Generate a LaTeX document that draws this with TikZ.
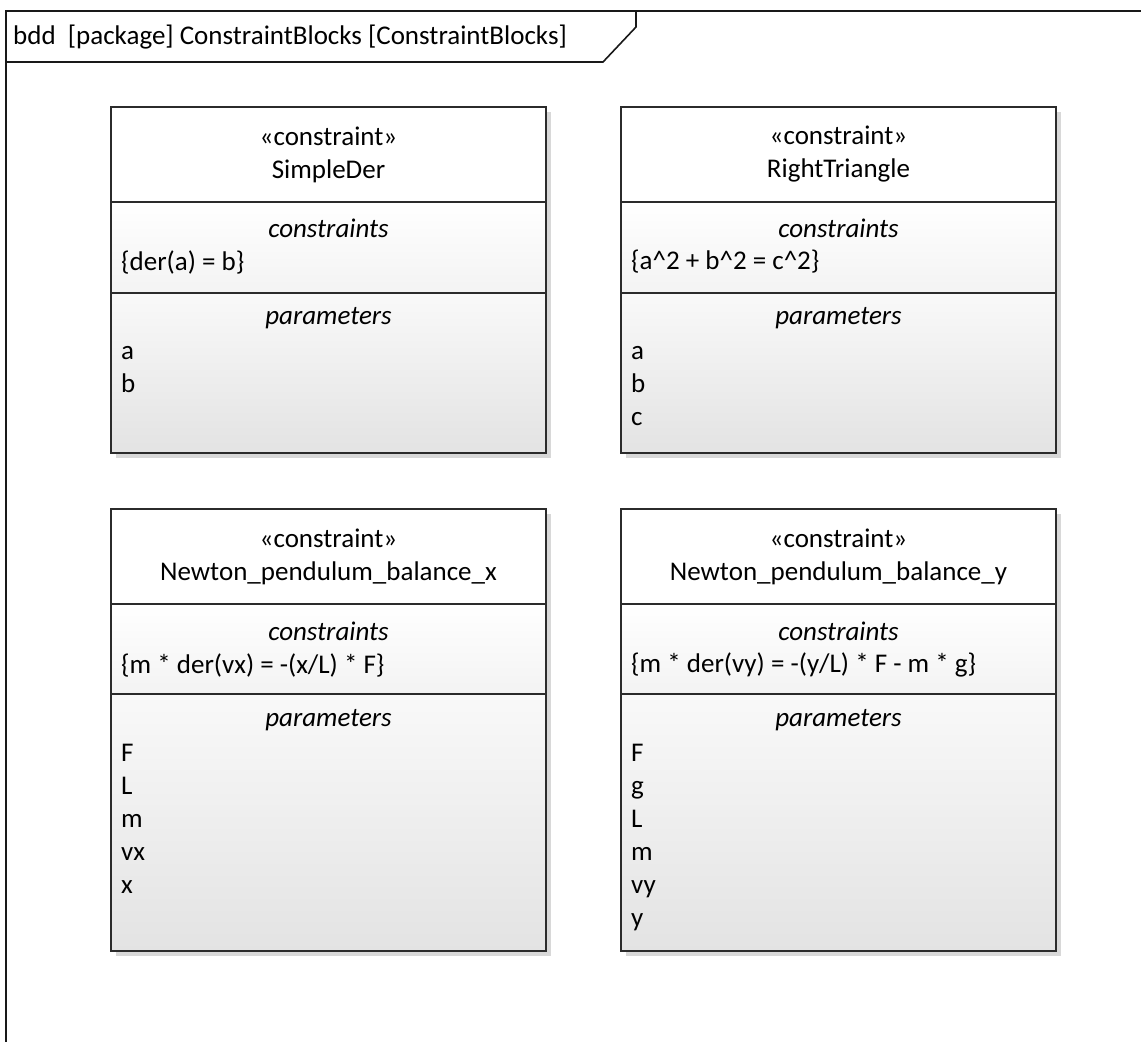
\documentclass[tikz,border=0pt]{standalone}
\usepackage{fontspec}
\setmainfont{Carlito}
\usetikzlibrary{shadows,positioning}
\definecolor{edge}{HTML}{2B2B2B}
\definecolor{shade}{HTML}{D8D8D8}
\definecolor{constbot}{HTML}{F3F3F3}
\definecolor{paramtop}{HTML}{F9F9F9}
\definecolor{parambot}{HTML}{E3E3E3}
\newcommand{\umltext}{\fontsize{27}{33}\selectfont}

\begin{document}
\begin{tikzpicture}[
  x=1pt,y=1pt,
  frameline/.style={draw=black!90, line width=1.6pt},
  comp/.style={draw=edge, line width=1.8pt, minimum width=435pt,
    inner sep=0pt, outer sep=0pt, anchor=north west,
    drop shadow={shadow xshift=5pt, shadow yshift=-5pt, fill=shade,
      opacity=1}},
  headbox/.style={comp, fill=white, align=center, font=\umltext},
  consbox/.style={comp, top color=white, bottom color=constbot},
  parsbox/.style={comp, top color=paramtop, bottom color=parambot},
  complabel/.style={font=\umltext\itshape, inner sep=0pt},
  entry/.style={font=\umltext, inner sep=0pt, anchor=west},
  plist/.style={font=\umltext, inner sep=0pt, anchor=north west,
    align=left}
]
\useasboundingbox (0,0) rectangle (1141,-1042);

% Diagram frame with its name tab.
\draw[frameline] (1141,-11) -- (6,-11) -- (6,-1042);
\draw[frameline] (6,-62) -- (603,-62) -- (636,-27) -- (636,-11);
\node[anchor=west, font=\umltext, inner sep=0pt] (title) at (13,-37)
  {bdd~ [package] ConstraintBlocks [ConstraintBlocks]};

% SimpleDer
\node[headbox, minimum height=95pt] (derHead) at (111,-107)
  {«constraint»\\SimpleDer};
\node[consbox, minimum height=91pt] (derCons) at (derHead.south west) {};
\node[parsbox, minimum height=160pt] (derPars) at (derCons.south west) {};
\node[complabel] (derConsLbl) at ([yshift=-26pt]derCons.north) {constraints};
\node[entry] (derConsTxt) at ([xshift=10pt,yshift=-60pt]derCons.north west)
  {\{der(a) = b\}};
\node[complabel] (derParsLbl) at ([yshift=-25pt]derPars.north) {parameters};
\node[plist] (derParsTxt) at ([xshift=10pt,yshift=-43pt]derPars.north west)
  {\strut a\\b};

% RightTriangle
\node[headbox, minimum height=95pt] (triHead) at (621,-107)
  {«constraint»\\RightTriangle};
\node[consbox, minimum height=91pt] (triCons) at (triHead.south west) {};
\node[parsbox, minimum height=160pt] (triPars) at (triCons.south west) {};
\node[complabel] (triConsLbl) at ([yshift=-26pt]triCons.north) {constraints};
\node[entry] (triConsTxt) at ([xshift=10pt,yshift=-60pt]triCons.north west)
  {\{a\textasciicircum 2 + b\textasciicircum 2 = c\textasciicircum 2\}};
\node[complabel] (triParsLbl) at ([yshift=-25pt]triPars.north) {parameters};
\node[plist] (triParsTxt) at ([xshift=10pt,yshift=-43pt]triPars.north west)
  {\strut a\\b\\c};

% Newton_pendulum_balance_x
\node[headbox, minimum height=95pt] (balxHead) at (111,-509)
  {«constraint»\\Newton\_pendulum\_balance\_x};
\node[consbox, minimum height=90pt] (balxCons) at (balxHead.south west) {};
\node[parsbox, minimum height=257pt] (balxPars) at (balxCons.south west) {};
\node[complabel] (balxConsLbl) at ([yshift=-27pt]balxCons.north)
  {constraints};
\node[entry] (balxConsTxt) at ([xshift=10pt,yshift=-61pt]balxCons.north west)
  {\{m * der(vx) = -(x/L) * F\}};
\node[complabel] (balxParsLbl) at ([yshift=-26pt]balxPars.north)
  {parameters};
\node[plist] (balxParsTxt) at ([xshift=10pt,yshift=-44pt]balxPars.north west)
  {\strut F\\L\\m\\vx\\x};

% Newton_pendulum_balance_y
\node[headbox, minimum height=95pt] (balyHead) at (621,-509)
  {«constraint»\\Newton\_pendulum\_balance\_y};
\node[consbox, minimum height=90pt] (balyCons) at (balyHead.south west) {};
\node[parsbox, minimum height=257pt] (balyPars) at (balyCons.south west) {};
\node[complabel] (balyConsLbl) at ([yshift=-27pt]balyCons.north)
  {constraints};
\node[entry] (balyConsTxt) at ([xshift=10pt,yshift=-61pt]balyCons.north west)
  {\{m * der(vy) = -(y/L) * F - m * g\}};
\node[complabel] (balyParsLbl) at ([yshift=-26pt]balyPars.north)
  {parameters};
\node[plist] (balyParsTxt) at ([xshift=10pt,yshift=-44pt]balyPars.north west)
  {\strut F\\g\\L\\m\\vy\\y};

\end{tikzpicture}
\end{document}
